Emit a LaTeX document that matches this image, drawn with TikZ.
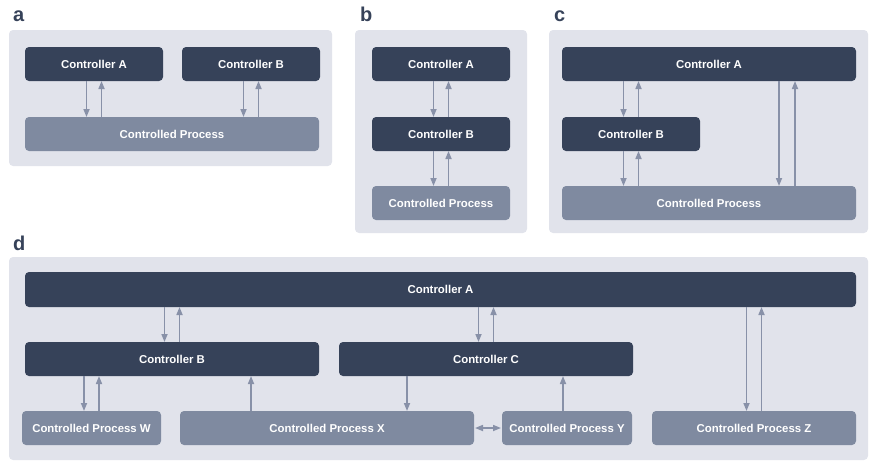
\documentclass[tikz,border=0pt]{standalone}
\usepackage{fontspec}
\setmainfont{Liberation Sans}
\usetikzlibrary{arrows.meta}
\definecolor{panelc}{HTML}{E1E3EB}
\definecolor{darkc}{HTML}{364259}
\definecolor{procc}{HTML}{7F8AA0}
\definecolor{arrc}{HTML}{8891A8}
\begin{document}
\begin{tikzpicture}[x=1pt,y=-1pt,
 panel/.style={fill=panelc, rounded corners=4pt},
 ctrl/.style={fill=darkc, rounded corners=4pt, text=white, font=\fontsize{11.4}{13}\selectfont\bfseries, inner sep=0pt, outer sep=0pt},
 proc/.style={ctrl, fill=procc},
 sz/.style 2 args={minimum width=#1, minimum height=#2},
 lbl/.style={text=darkc, font=\fontsize{20}{24}\selectfont\bfseries, anchor=base west, inner sep=0pt},
 arr/.style={draw=arrc, line width=1.6pt, -{Triangle[width=6pt,length=8pt]}},
 darr/.style={draw=arrc, line width=1.6pt, {Triangle[width=6pt,length=8pt]}-{Triangle[width=6pt,length=8pt]}, shorten <=1pt, shorten >=1pt}
]
\useasboundingbox (0,0) rectangle (872,461);

% ---------- panel a ----------
\node[lbl] (la) at (13,21) {a};
\fill[panel] (9,30) rectangle (332,166);
\node[ctrl, sz={138pt}{34pt}] (aA) at (94,64) {Controller A};
\node[ctrl, sz={138pt}{34pt}] (aB) at (251,64) {Controller B};
\node[proc, sz={294pt}{34pt}] (aP) at (172,134) {Controlled Process};
\draw[arr] ([xshift=-7.5pt]aA.south) -- ([xshift=-7.5pt]aA.south |- aP.north);
\draw[arr] ([xshift=7.5pt]aA.south |- aP.north) -- ([xshift=7.5pt]aA.south);
\draw[arr] ([xshift=-7.5pt]aB.south) -- ([xshift=-7.5pt]aB.south |- aP.north);
\draw[arr] ([xshift=7.5pt]aB.south |- aP.north) -- ([xshift=7.5pt]aB.south);

% ---------- panel b ----------
\node[lbl] (lb) at (360,21) {b};
\fill[panel] (355,30) rectangle (527,233);
\node[ctrl, sz={138pt}{34pt}] (bA) at (441,64) {Controller A};
\node[ctrl, sz={138pt}{34pt}] (bB) at (441,134) {Controller B};
\node[proc, sz={138pt}{34pt}] (bP) at (441,203) {Controlled Process};
\draw[arr] ([xshift=-7.5pt]bA.south) -- ([xshift=-7.5pt]bB.north);
\draw[arr] ([xshift=7.5pt]bB.north) -- ([xshift=7.5pt]bA.south);
\draw[arr] ([xshift=-7.5pt]bB.south) -- ([xshift=-7.5pt]bP.north);
\draw[arr] ([xshift=7.5pt]bP.north) -- ([xshift=7.5pt]bB.south);

% ---------- panel c ----------
\node[lbl] (lc) at (554,21) {c};
\fill[panel] (549,30) rectangle (868,233);
\node[ctrl, sz={294pt}{34pt}] (cA) at (709,64) {Controller A};
\node[ctrl, sz={138pt}{34pt}] (cB) at (631,134) {Controller B};
\node[proc, sz={294pt}{34pt}] (cP) at (709,203) {Controlled Process};
\coordinate (cx1) at (779,0);
\coordinate (cx2) at (795,0);
\draw[arr] ([xshift=-7.5pt]cB.north |- cA.south) -- ([xshift=-7.5pt]cB.north);
\draw[arr] ([xshift=7.5pt]cB.north) -- ([xshift=7.5pt]cB.north |- cA.south);
\draw[arr] ([xshift=-7.5pt]cB.south) -- ([xshift=-7.5pt]cB.south |- cP.north);
\draw[arr] ([xshift=7.5pt]cB.south |- cP.north) -- ([xshift=7.5pt]cB.south);
\draw[arr] (cA.south -| cx1) -- (cP.north -| cx1);
\draw[arr] (cP.north -| cx2) -- (cA.south -| cx2);

% ---------- panel d ----------
\node[lbl] (ld) at (13,250) {d};
\fill[panel] (9,257) rectangle (868,460);
\node[ctrl, sz={831pt}{35pt}] (dA) at (440.5,289.5) {Controller A};
\node[ctrl, sz={294pt}{34pt}] (dB) at (172,359) {Controller B};
\node[ctrl, sz={294pt}{34pt}] (dC) at (486,359) {Controller C};
\node[proc, sz={139pt}{34pt}] (dW) at (91.5,428) {Controlled Process W};
\node[proc, sz={294pt}{34pt}] (dX) at (327,428) {Controlled Process X};
\node[proc, sz={130pt}{34pt}] (dY) at (567,428) {Controlled Process Y};
\node[proc, sz={204pt}{34pt}] (dZ) at (754,428) {Controlled Process Z};
\coordinate (dx1) at (251,0);
\coordinate (dx2) at (407,0);
\coordinate (dx3) at (563,0);
% A <-> B
\draw[arr] ([xshift=-7.5pt]dB.north |- dA.south) -- ([xshift=-7.5pt]dB.north);
\draw[arr] ([xshift=7.5pt]dB.north) -- ([xshift=7.5pt]dB.north |- dA.south);
% A <-> C
\draw[arr] ([xshift=-7.5pt]dC.north |- dA.south) -- ([xshift=-7.5pt]dC.north);
\draw[arr] ([xshift=7.5pt]dC.north) -- ([xshift=7.5pt]dC.north |- dA.south);
% B <-> W
\draw[arr] ([xshift=-7.5pt]dW.north |- dB.south) -- ([xshift=-7.5pt]dW.north);
\draw[arr] ([xshift=7.5pt]dW.north) -- ([xshift=7.5pt]dW.north |- dB.south);
% X -> B, C -> X, Y -> C
\draw[arr] (dX.north -| dx1) -- (dB.south -| dx1);
\draw[arr] (dC.south -| dx2) -- (dX.north -| dx2);
\draw[arr] (dY.north -| dx3) -- (dC.south -| dx3);
% A <-> Z
\draw[arr] ([xshift=-7.5pt]dZ.north |- dA.south) -- ([xshift=-7.5pt]dZ.north);
\draw[arr] ([xshift=7.5pt]dZ.north) -- ([xshift=7.5pt]dZ.north |- dA.south);
% X <-> Y
\draw[darr] (dX.east) -- (dY.west);
\end{tikzpicture}
\end{document}
